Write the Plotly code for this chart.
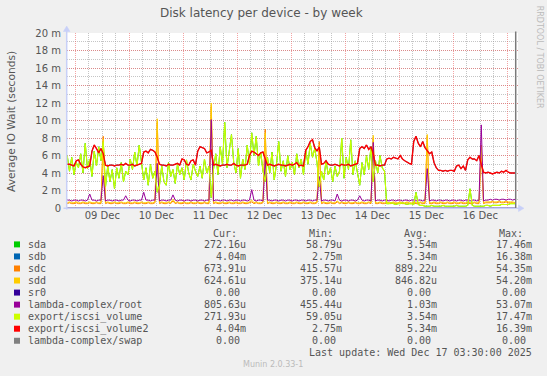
import plotly.graph_objects as go
import pandas as pd

# ---------------- data (values in milliseconds) ----------------
start_time = "2025-12-08 20:25"
n_points = 200

volume2_ms = [
    5.0, 5.0, 4.9, 4.8, 5.4, 5.5, 5.0, 4.7, 4.6, 4.7,
    4.8, 6.5, 7.2, 6.8, 6.3, 6.8, 6.2, 4.9, 4.8, 4.9,
    4.9, 4.8, 4.9, 4.9, 5.0, 4.9, 5.1, 4.9, 4.9, 5.0,
    4.8, 4.9, 5.0, 5.1, 6.4, 6.5, 6.3, 6.7, 6.6, 6.4,
    5.8, 5.0, 4.9, 4.9, 4.8, 5.0, 4.9, 4.9, 5.0, 5.1,
    4.9, 5.6, 5.5, 5.0, 4.9, 5.4, 5.5, 4.9, 6.5, 7.0,
    6.9, 6.8, 6.3, 6.4, 6.6, 4.9, 5.0, 4.9, 4.8, 4.9,
    4.9, 5.0, 4.9, 4.9, 5.1, 4.9, 4.8, 4.9, 4.9, 4.9,
    5.0, 6.0, 6.5, 6.4, 6.2, 6.0, 6.3, 6.4, 5.6, 4.9,
    5.0, 4.9, 4.8, 4.9, 5.0, 4.9, 4.9, 4.8, 4.9, 5.0,
    4.9, 5.0, 5.2, 4.8, 4.9, 4.8, 6.6, 7.0, 7.6, 7.8,
    6.9, 6.5, 7.0, 5.0, 5.1, 5.4, 5.0, 4.9, 4.9, 5.0,
    4.9, 4.8, 5.0, 4.9, 4.9, 5.0, 4.8, 4.9, 5.0, 5.1,
    6.8, 7.0, 6.8, 7.2, 6.7, 7.0, 6.2, 4.9, 4.9, 4.8,
    4.9, 4.9, 5.6, 5.7, 5.6, 5.8, 5.7, 5.6, 6.0, 5.6,
    5.4, 5.2, 5.1, 5.0, 7.6, 8.2, 7.4, 7.0, 7.6, 6.9,
    6.5, 6.2, 6.4, 5.2, 4.6, 4.3, 4.3, 4.2, 4.3, 4.2,
    4.3, 4.3, 4.2, 4.8, 4.9, 4.5, 4.8, 4.3, 5.5, 5.8,
    5.6, 5.6, 5.4, 6.0, 5.0, 4.1, 4.0, 4.1, 4.0, 3.9,
    4.0, 4.1, 4.0, 4.2, 4.1, 4.3, 4.1, 4.0, 4.0, 4.0,
]

volume_ms = [
    6.0, 4.2, 5.8, 3.8, 5.2, 4.6, 6.2, 4.0, 7.4, 4.5,
    5.6, 3.6, 6.5, 4.8, 7.0, 5.4, 7.6, 2.4, 4.8, 3.0,
    4.4, 2.2, 4.6, 3.4, 5.2, 3.0, 4.2, 3.8, 5.6, 4.4,
    6.4, 4.8, 7.2, 5.0, 3.2, 4.6, 2.6, 5.0, 3.4, 4.2,
    1.8, 2.6, 4.8, 3.0, 2.6, 5.2, 3.6, 4.4, 2.8, 5.0,
    3.8, 4.6, 3.2, 5.5, 4.0, 3.2, 5.0, 4.2, 3.6, 4.8,
    3.4, 5.6, 4.0, 4.8, 1.2, 4.4, 6.2, 3.8, 7.0, 5.0,
    9.8, 4.6, 6.6, 8.4, 5.2, 4.0, 6.8, 3.4, 5.6, 4.4,
    7.2, 5.0, 8.6, 6.0, 8.2, 4.8, 6.4, 4.2, 3.0, 5.8,
    4.0, 6.4, 3.2, 5.0, 7.6, 4.2, 5.4, 3.6, 6.0, 4.4,
    5.2, 3.8, 6.2, 4.6, 5.6, 3.8, 6.6, 5.0, 7.4, 5.8,
    6.8, 5.2, 2.4, 4.2, 3.2, 5.4, 3.8, 4.6, 3.0, 4.8,
    3.6, 4.2, 8.0, 3.4, 5.8, 4.4, 7.8, 3.8, 5.4, 4.0,
    2.6, 5.2, 3.8, 6.0, 4.4, 7.0, 3.0, 5.4, 4.0, 6.0,
    4.6, 4.2, 0.5, 0.5, 0.6, 0.5, 0.4, 0.5, 0.5, 0.6,
    0.5, 0.4, 0.5, 0.5, 0.4, 1.8, 0.4, 0.3, 0.3, 0.2,
    0.2, 0.2, 0.3, 0.2, 0.2, 0.2, 0.2, 0.3, 0.2, 0.2,
    0.2, 0.2, 0.2, 0.3, 0.2, 0.2, 0.2, 0.2, 0.3, 2.2,
    0.3, 0.2, 0.2, 0.2, 0.2, 0.2, 0.3, 0.3, 0.2, 0.3,
    0.3, 0.3, 0.3, 0.4, 0.4, 0.4, 0.4, 0.5, 0.5, 0.5,
]

root_ms = [
    0.9, 0.9, 0.8, 0.9, 0.9, 0.8, 0.9, 0.9, 0.8, 0.9,
    1.6, 0.9, 0.9, 0.8, 0.9, 0.9, 3.7, 0.8, 0.9, 0.9,
    0.8, 0.9, 0.9, 0.8, 0.9, 0.9, 1.4, 0.9, 0.8, 0.9,
    0.9, 0.8, 0.9, 0.9, 1.8, 0.9, 0.9, 0.8, 0.9, 0.9,
    5.1, 0.8, 0.9, 0.9, 0.8, 0.9, 0.9, 1.5, 0.9, 0.8,
    0.9, 0.9, 0.8, 0.9, 0.9, 0.8, 0.9, 0.9, 0.8, 0.9,
    0.9, 0.8, 0.9, 0.9, 10.1, 0.8, 0.9, 0.9, 0.8, 0.9,
    0.9, 0.8, 0.9, 0.9, 0.8, 0.9, 0.9, 0.8, 0.9, 0.9,
    0.8, 0.9, 2.1, 0.9, 0.8, 0.9, 0.9, 0.8, 5.5, 0.9,
    0.9, 0.8, 0.9, 0.9, 0.8, 0.9, 0.9, 0.8, 0.9, 0.9,
    0.8, 0.9, 0.9, 0.8, 0.9, 0.9, 0.8, 0.9, 0.9, 0.8,
    0.9, 0.9, 3.6, 0.8, 0.9, 0.9, 0.8, 0.9, 0.9, 0.8,
    1.6, 0.9, 0.8, 0.9, 0.9, 0.8, 0.9, 0.9, 0.8, 0.9,
    1.4, 0.9, 0.8, 0.9, 0.9, 0.8, 7.5, 0.8, 0.9, 0.9,
    0.8, 0.9, 0.9, 0.8, 0.9, 0.9, 0.8, 0.9, 0.9, 0.8,
    0.9, 0.9, 0.8, 0.9, 0.9, 0.8, 0.9, 0.9, 0.8, 0.9,
    4.5, 0.8, 0.9, 0.9, 0.8, 0.9, 0.9, 0.8, 0.9, 0.9,
    0.8, 0.9, 0.9, 0.8, 0.9, 0.9, 0.8, 0.9, 0.9, 0.8,
    0.9, 0.9, 0.8, 0.9, 9.5, 0.8, 0.9, 0.9, 1.0, 0.9,
    1.0, 1.0, 0.9, 1.0, 1.0, 0.9, 1.0, 1.0, 0.9, 1.0,
]

sdd_ms = [
    0.6, 0.7, 0.6, 0.6, 0.7, 0.6, 0.6, 0.7, 0.6, 0.6,
    0.7, 0.6, 0.6, 0.7, 0.6, 0.6, 7.9, 0.6, 0.7, 0.6,
    0.6, 0.7, 0.6, 0.6, 0.7, 0.6, 0.6, 0.7, 0.6, 0.6,
    0.7, 0.6, 0.6, 0.7, 0.6, 0.6, 0.7, 0.6, 0.6, 0.7,
    10.2, 0.6, 0.7, 0.6, 0.6, 0.7, 0.6, 1.0, 0.6, 0.7,
    0.6, 0.6, 0.7, 0.6, 0.6, 0.7, 0.6, 0.6, 0.7, 0.6,
    0.6, 0.7, 0.6, 0.6, 12.0, 0.6, 0.7, 0.6, 0.6, 0.7,
    0.6, 0.6, 0.7, 0.6, 0.6, 0.7, 0.6, 0.6, 0.7, 0.6,
    0.6, 0.7, 0.9, 0.6, 0.7, 0.6, 0.6, 0.7, 8.6, 0.6,
    0.7, 0.6, 0.6, 0.7, 0.6, 0.6, 0.7, 0.6, 0.6, 0.7,
    0.6, 0.6, 0.7, 0.6, 0.6, 0.7, 0.6, 0.6, 0.7, 0.6,
    0.6, 0.7, 7.2, 0.6, 0.7, 0.6, 0.6, 0.7, 0.6, 0.6,
    0.8, 0.6, 0.7, 0.6, 0.6, 0.7, 0.6, 0.6, 0.7, 0.6,
    0.6, 0.7, 0.6, 0.6, 0.7, 0.6, 8.3, 0.6, 0.6, 0.7,
    0.6, 0.6, 0.7, 0.6, 0.6, 0.7, 0.6, 0.6, 0.7, 0.6,
    0.6, 0.7, 0.6, 0.6, 0.7, 0.6, 0.6, 0.7, 0.6, 0.6,
    8.4, 0.6, 0.6, 0.7, 0.6, 0.6, 0.7, 0.6, 0.6, 0.7,
    0.6, 0.6, 0.7, 0.6, 0.6, 0.7, 0.6, 0.6, 0.7, 0.6,
    0.6, 0.7, 0.6, 0.6, 7.0, 0.6, 0.7, 0.7, 0.7, 0.8,
    0.7, 0.7, 0.8, 0.7, 0.7, 0.8, 0.7, 0.7, 0.7, 0.6,
]

sdc_ms = [
    0.5, 0.6, 0.5, 0.5, 0.6, 0.5, 0.5, 0.6, 0.5, 0.5,
    0.6, 0.5, 0.5, 0.6, 0.5, 0.5, 8.2, 0.5, 0.6, 0.5,
    0.5, 0.6, 0.5, 0.5, 0.6, 0.5, 0.5, 0.6, 0.5, 0.5,
    0.6, 0.5, 0.5, 0.6, 0.5, 0.5, 0.6, 0.5, 0.5, 0.6,
    9.8, 0.5, 0.6, 0.5, 0.5, 0.6, 0.5, 0.8, 0.5, 0.6,
    0.5, 0.5, 0.6, 0.5, 0.5, 0.6, 0.5, 0.5, 0.6, 0.5,
    0.5, 0.6, 0.5, 0.5, 11.6, 0.5, 0.6, 0.5, 0.5, 0.6,
    0.5, 0.5, 0.6, 0.5, 0.5, 0.6, 0.5, 0.5, 0.6, 0.5,
    0.5, 0.6, 0.7, 0.5, 0.6, 0.5, 0.5, 0.6, 9.0, 0.5,
    0.6, 0.5, 0.5, 0.6, 0.5, 0.5, 0.6, 0.5, 0.5, 0.6,
    0.5, 0.5, 0.6, 0.5, 0.5, 0.6, 0.5, 0.5, 0.6, 0.5,
    0.5, 0.6, 7.6, 0.5, 0.6, 0.5, 0.5, 0.6, 0.5, 0.5,
    0.7, 0.5, 0.6, 0.5, 0.5, 0.6, 0.5, 0.5, 0.6, 0.5,
    0.5, 0.6, 0.5, 0.5, 0.6, 0.5, 8.0, 0.5, 0.5, 0.6,
    0.5, 0.5, 0.6, 0.5, 0.5, 0.6, 0.5, 0.5, 0.6, 0.5,
    0.5, 0.6, 0.5, 0.5, 0.6, 0.5, 0.5, 0.6, 0.5, 0.5,
    8.2, 0.5, 0.5, 0.6, 0.5, 0.5, 0.6, 0.5, 0.5, 0.6,
    0.5, 0.5, 0.6, 0.5, 0.5, 0.6, 0.5, 0.5, 0.6, 0.5,
    0.5, 0.6, 0.5, 0.5, 7.2, 0.5, 0.6, 0.6, 0.6, 0.7,
    0.6, 0.6, 0.7, 0.6, 0.6, 0.7, 0.6, 0.6, 0.6, 0.5,
]

# sda mirrors export/iscsi_volume, sdb mirrors export/iscsi_volume2
sda_ms = list(volume_ms)
sdb_ms = list(volume2_ms)
sr0_ms = [0.0] * n_points
swap_ms = [0.0] * n_points

series_names = ["sda", "sdb", "sdc", "sdd", "sr0", "lambda-complex/root",
                "export/iscsi_volume", "export/iscsi_volume2", "lambda-complex/swap"]
series_colors = ["#00CC00", "#0066B3", "#FF8000", "#FFCC00", "#330099",
                 "#990099", "#CCFF00", "#FF0000", "#808080"]
series_widths = [1, 1, 1, 1, 1, 1, 1.1, 1.4, 1]
series_values = [sda_ms, sdb_ms, sdc_ms, sdd_ms, sr0_ms, root_ms,
                 volume_ms, volume2_ms, swap_ms]

cur_vals = ["272.16u", "4.04m", "673.91u", "624.61u", "0.00", "805.63u", "271.93u", "4.04m", "0.00"]
min_vals = ["58.79u", "2.75m", "415.57u", "375.14u", "0.00", "455.44u", "59.05u", "2.75m", "0.00"]
avg_vals = ["3.54m", "5.34m", "889.22u", "846.82u", "0.00", "1.03m", "3.54m", "5.34m", "0.00"]
max_vals = ["17.46m", "16.38m", "54.35m", "54.20m", "0.00", "53.07m", "17.47m", "16.39m", "0.00"]

y_tickvals = [0, 2, 4, 6, 8, 10, 12, 14, 16, 18, 20]
y_ticktext = ["0", "2 m", "4 m", "6 m", "8 m", "10 m", "12 m", "14 m", "16 m", "18 m", "20 m"]

title_text = "Disk latency per device - by week"
y_title = "Average IO Wait (seconds)"
last_update = "Last update: Wed Dec 17 03:30:00 2025"
munin_ver = "Munin 2.0.33-1"
rrd_text = "RRDTOOL / TOBI OETIKER"

# ---------------- layout geometry ----------------
W, H = 547, 376
L, R, T, B = 67, 29, 33, 167.5
PW = W - L - R
PH = H - T - B


def fx(px):
    return (px - L) / PW


def fy(py):
    return (H - B - py) / PH


TEXT = "#555555"
AXIS = "#C8D0F8"
SANS = "DejaVu Sans"
MONO = "DejaVu Sans Mono"

times = pd.date_range(start_time, periods=n_points, freq="h")

fig = go.Figure()
for name, color, width, vals in zip(series_names, series_colors, series_widths, series_values):
    fig.add_trace(go.Scatter(x=times, y=vals, mode="lines", name=name,
                             line=dict(color=color, width=width), hoverinfo="skip"))

major_grid = "rgba(235,90,90,0.55)"
minor_grid = "rgba(150,150,150,0.55)"

fig.update_layout(
    width=W, height=H,
    margin=dict(l=L, r=R, t=T, b=B, autoexpand=False),
    paper_bgcolor="#F0F0F0", plot_bgcolor="#FFFFFF",
    showlegend=False,
    hovermode=False,
    font=dict(family=SANS, size=10, color=TEXT),
    xaxis=dict(
        type="date",
        range=["2025-12-08 20:19", "2025-12-17 04:45"],
        tick0="2025-12-09", dtick=86400000,
        ticklabelmode="period", tickformat="%d %b",
        showgrid=True, gridcolor=major_grid, griddash="1px,1px", gridwidth=1,
        minor=dict(dtick=21600000, tick0="2025-12-09", showgrid=True,
                   gridcolor=minor_grid, griddash="1px,1px", gridwidth=1),
        showline=False, zeroline=False, ticks="",
        tickfont=dict(family=SANS, size=10, color=TEXT),
        fixedrange=True,
    ),
    yaxis=dict(
        range=[0, 20],
        tickmode="array", tickvals=y_tickvals, ticktext=y_ticktext,
        showgrid=True, gridcolor=major_grid, griddash="1px,1px", gridwidth=1,
        minor=dict(tickmode="linear", tick0=0, dtick=1, showgrid=True,
                   gridcolor=minor_grid, griddash="1px,1px", gridwidth=1),
        showline=False, zeroline=False, ticks="",
        ticklabelstandoff=5,
        tickfont=dict(family=SANS, size=10, color=TEXT),
        fixedrange=True,
    ),
)

shapes = []
# axes with arrows
shapes.append(dict(type="line", xref="paper", yref="paper",
                   x0=fx(66.7), x1=fx(66.7), y0=fy(210), y1=fy(30),
                   line=dict(color=AXIS, width=1.5), layer="above"))
shapes.append(dict(type="line", xref="paper", yref="paper",
                   x0=fx(63.5), x1=fx(519), y0=fy(208.8), y1=fy(208.8),
                   line=dict(color=AXIS, width=1.5), layer="above"))
shapes.append(dict(type="path", xref="paper", yref="paper",
                   path=f"M {fx(66.7)},{fy(26.0)} L {fx(63.4)},{fy(31.5)} L {fx(70.0)},{fy(31.5)} Z",
                   fillcolor=AXIS, line=dict(color=AXIS, width=0.5), layer="above"))
shapes.append(dict(type="path", xref="paper", yref="paper",
                   path=f"M {fx(524)},{fy(208.8)} L {fx(518.5)},{fy(205.5)} L {fx(518.5)},{fy(212.1)} Z",
                   fillcolor=AXIS, line=dict(color=AXIS, width=0.5), layer="above"))
# right-edge marker line
shapes.append(dict(type="line", xref="paper", yref="paper",
                   x0=fx(515.7), x1=fx(515.7), y0=fy(208.5), y1=fy(31.5),
                   line=dict(color="#7A7A7A", width=1.5), layer="above"))

annotations = []
annotations.append(dict(text=title_text, x=fx(261.5), y=fy(13.3), xref="paper", yref="paper",
                        showarrow=False, xanchor="center", yanchor="middle",
                        font=dict(family=SANS, size=12, color=TEXT)))
annotations.append(dict(text=y_title, x=fx(10.8), y=fy(121.5), xref="paper", yref="paper",
                        showarrow=False, xanchor="center", yanchor="middle", textangle=-90,
                        font=dict(family=SANS, size=10.7, color=TEXT)))
annotations.append(dict(text=rrd_text, x=fx(539), y=fy(56.7), xref="paper", yref="paper",
                        showarrow=False, xanchor="center", yanchor="middle", textangle=90,
                        font=dict(family=SANS, size=8, color="#BBBBBB")))
annotations.append(dict(text=munin_ver, x=fx(273.3), y=fy(365), xref="paper", yref="paper",
                        showarrow=False, xanchor="center", yanchor="middle",
                        font=dict(family=SANS, size=8, color="#BBBBBB")))

mono = dict(family=MONO, size=10, color=TEXT)
header_y = 234
for label, left in [("Cur:", 211.7), ("Min:", 307.7), ("Avg:", 402.7), ("Max:", 497.7)]:
    annotations.append(dict(text=label, x=fx(left), y=fy(header_y), xref="paper", yref="paper",
                            showarrow=False, xanchor="left", yanchor="middle", borderpad=0,
                            font=mono))

row_y0, row_step = 245.0, 12.08
for i, name in enumerate(series_names):
    ry = row_y0 + i * row_step
    shapes.append(dict(type="rect", xref="paper", yref="paper",
                       x0=fx(14), x1=fx(20), y0=fy(ry - 3), y1=fy(ry + 3),
                       fillcolor=series_colors[i], line=dict(width=0), layer="above"))
    annotations.append(dict(text=name, x=fx(26.5), y=fy(ry), xref="paper", yref="paper",
                            showarrow=False, xanchor="left", yanchor="middle", borderpad=0,
                            font=mono))
    for col, right in [(cur_vals, 247.3), (min_vals, 343.3), (avg_vals, 438.3), (max_vals, 533.3)]:
        s = col[i]
        if s[-1].isdigit():
            s = s + "\u00a0"
        annotations.append(dict(text=s, x=fx(right), y=fy(ry), xref="paper", yref="paper",
                                showarrow=False, xanchor="right", yanchor="middle", borderpad=0,
                                font=mono))

annotations.append(dict(text=last_update, x=fx(533.3), y=fy(353.3), xref="paper", yref="paper",
                        showarrow=False, xanchor="right", yanchor="middle", borderpad=0,
                        font=mono))

fig.update_layout(shapes=shapes, annotations=annotations)

fig.write_html("out.html",
               config={"displayModeBar": False, "staticPlot": True},
               post_script="document.body.style.margin='0px';document.body.style.overflow='hidden';")
